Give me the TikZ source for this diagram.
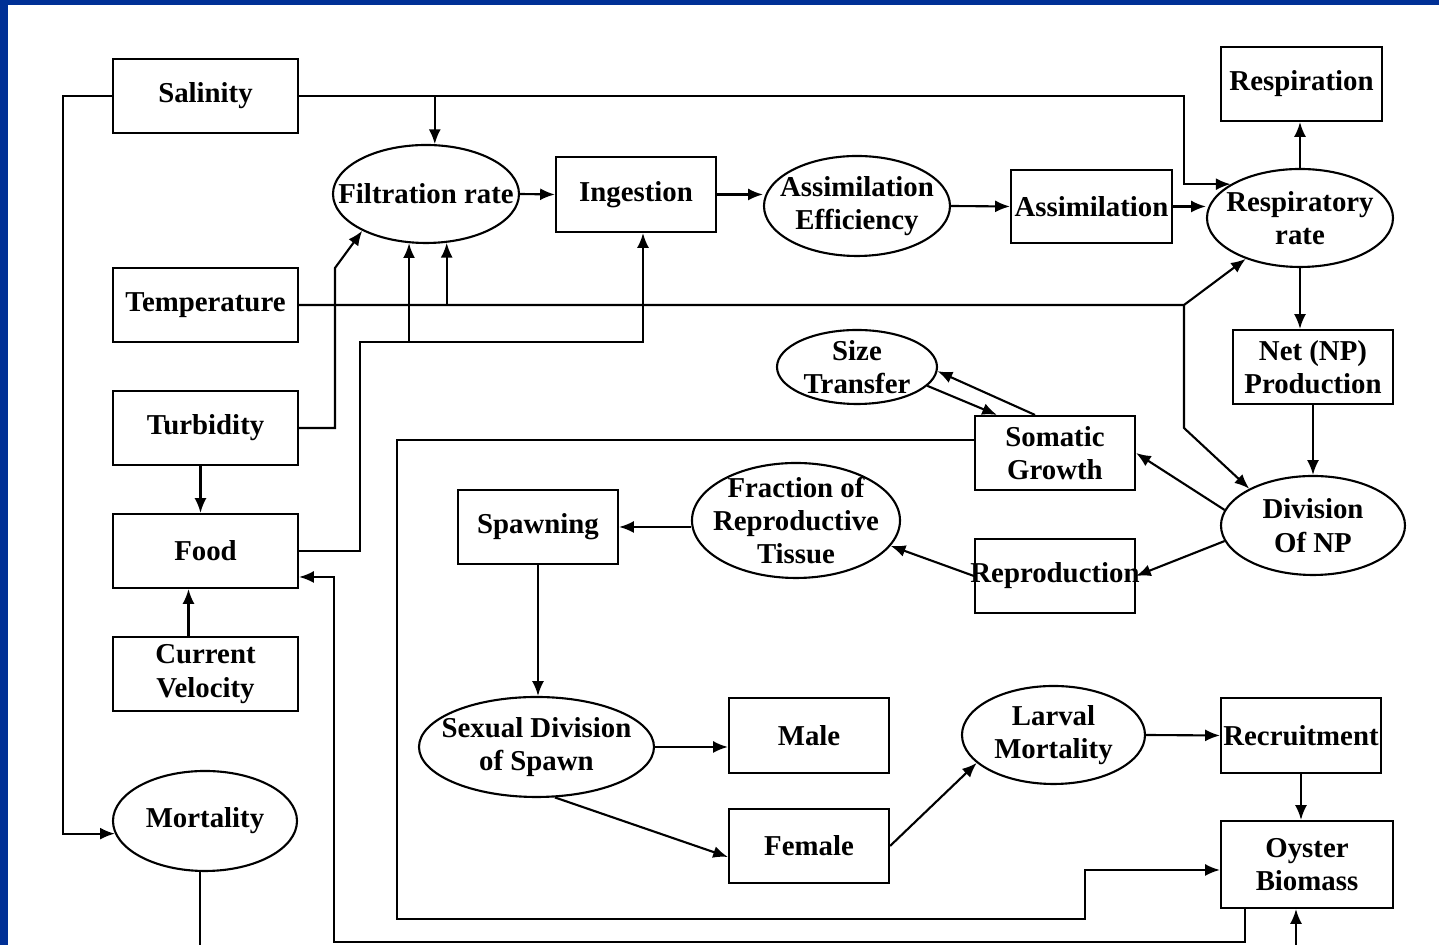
\documentclass[tikz,border=0pt]{standalone}
\usepackage{fontspec}
\setmainfont{Liberation Serif}
\usetikzlibrary{arrows.meta,shapes.geometric}
\definecolor{slideblue}{RGB}{0,48,150}
\tikzstyle{box}=[draw,rectangle,minimum width=1.6cm,minimum height=0.74cm,inner sep=0pt,align=center]
\tikzstyle{oval}=[draw,ellipse,minimum width=1.86cm,minimum height=0.98cm,inner sep=0pt]
\tikzstyle{edge}=[draw,-{Latex[length=4.2pt,width=3.4pt]}]
\tikzstyle{wire}=[draw,-]
\tikzset{txt/.style={label={[align=center]center:#1}}}

\begin{document}
\begin{tikzpicture}[line width=0.6pt,font=\bfseries\fontsize{8.2}{9.5}\selectfont]
  \useasboundingbox (0,0) rectangle (14.39,-9.45);
  \clip (0,0) rectangle (14.39,-9.45);
  \fill[slideblue] (0,0) rectangle (0.08,-9.45);
  \fill[slideblue] (0,0) rectangle (14.39,-0.05);

  % drivers
  \node[box,minimum width=1.85cm] (sal) at (2.055,-0.96) {Salinity};
  \node[box,minimum width=1.85cm] (temp) at (2.055,-3.05) {Temperature};
  \node[box,minimum width=1.85cm] (turb) at (2.055,-4.28) {Turbidity};
  \node[box,minimum width=1.85cm] (food) at (2.055,-5.51) {Food};
  \node[box,minimum width=1.85cm] (cur) at (2.055,-6.74) {Current\\Velocity};
  \node[oval,minimum width=1.84cm,minimum height=1cm,txt={Mortality}] (mort) at (2.05,-8.21) {};

  % feeding and respiration
  \node[oval,txt={Filtration rate}] (filt) at (4.26,-1.94) {};
  \node[box,minimum height=0.75cm] (ing) at (6.36,-1.945) {Ingestion};
  \node[oval,minimum height=1cm,txt={Assimilation\\Efficiency}] (ae) at (8.57,-2.06) {};
  \node[box,minimum width=1.61cm,minimum height=0.73cm] (asm) at (10.915,-2.065) {Assimilation};
  \node[box,minimum width=1.61cm] (rspn) at (13.015,-0.84) {Respiration};
  \node[oval,txt={Respiratory\\rate}] (resp) at (13,-2.18) {};
  \node[box] (net) at (13.13,-3.67) {Net (NP)\\Production};
  \node[oval,minimum width=1.84cm,minimum height=0.99cm,txt={Division\\Of NP}] (div) at (13.13,-5.255) {};

  % growth and reproduction
  \node[oval,minimum width=1.6cm,minimum height=0.74cm,txt={Size\\Transfer}] (st) at (8.57,-3.67) {};
  \node[box] (som) at (10.55,-4.53) {Somatic\\Growth};
  \node[box,txt={Reproduction}] (rep) at (10.55,-5.76) {};
  \node[oval,minimum width=2.08cm,minimum height=1.15cm,txt={Fraction of\\Reproductive\\Tissue}] (frac) at (7.96,-5.205) {};
  \node[box] (spawn) at (5.38,-5.27) {Spawning};
  \node[oval,minimum width=2.35cm,minimum height=1cm,txt={Sexual Division\\of Spawn}] (sex) at (5.365,-7.47) {};
  \node[box,minimum height=0.75cm] (male) at (8.09,-7.355) {Male};
  \node[box] (fem) at (8.09,-8.46) {Female};
  \node[oval,minimum width=1.83cm,txt={Larval\\Mortality}] (larv) at (10.535,-7.35) {};
  \node[box,minimum height=0.75cm] (rec) at (13.01,-7.355) {Recruitment};
  \node[box,minimum width=1.72cm,minimum height=0.87cm] (oys) at (13.07,-8.645) {Oyster\\Biomass};

  \coordinate (tj) at (11.84,-3.05);
  \coordinate (fj) at (3.6,-3.42);
  \coordinate (mortout) at (2,-9.8);
  \coordinate (oysin) at (12.96,-9.8);

  % environment lines
  \draw[edge] (sal.west) -- ++(-0.49,0) |- (mort.188);
  \draw[edge] (sal.east) -- (11.84,-0.96) |- (resp.154);
  \draw[edge] (sal.east -| filt.80) -- (filt.80);
  \draw[edge] (temp.east) -- (tj) -- (resp.217);
  \draw[edge] (tj) -- ++(0,-1.23) -- (div.150);
  \draw[edge] (temp.east -| filt.-67) -- (filt.-67);
  \draw[edge] (turb.east) -| (3.35,-2.68) -- (filt.210);
  \draw[edge] (food.east) -| (fj) -| ([xshift=.07cm]ing.south);
  \draw[edge] (fj -| filt.-109) -- (filt.-109);
  \draw[edge] ([xshift=-.05cm]turb.south) -- ([xshift=-.05cm]food.north);
  \draw[edge] ([xshift=-.17cm]cur.north) -- ([xshift=-.17cm]food.south);
  \draw[wire] (mortout |- mort.south) -- (mortout);

  % main chain
  \draw[edge] (filt.east) -- (ing.west);
  \draw[edge] (ing.east) -- (ing.east -| ae.west);
  \draw[edge] (ae.east) -- (asm.west);
  \draw[edge] (asm.east) -- (asm.east -| resp.west);
  \draw[edge] (resp.north) -- (resp.north |- rspn.south);
  \draw[edge] (resp.south) -- (resp.south |- net.north);
  \draw[edge] (net.south) -- (div.north);
  \draw[edge] (div.170) -- (som.east);
  \draw[edge] (div.190) -- (rep.east);
  \draw[edge] ([xshift=-.2cm]som.north) -- (st.-3);
  \draw[edge] (st.-15) -- ([xshift=-.58cm]som.north);
  \draw[edge] (rep.west) -- (frac.-15);
  \draw[edge] (spawn.east -| frac.west) -- (spawn.east);
  \draw[edge] (spawn.south) -- (spawn.south |- sex.north);
  \draw[edge] (sex.east) -- (sex.east -| male.west);
  \draw[edge] (sex.-70) -- ([yshift=-.11cm]fem.west);
  \draw[edge] (fem.east) -- (larv.200);
  \draw[edge] (larv.east) -- (rec.west);
  \draw[edge] (rec.south) -- (rec.south |- oys.north);

  % feedback loops
  \draw[edge] ([yshift=.13cm]som.west) -| (3.97,-9.19) -| ([xshift=-1.35cm,yshift=-.055cm]oys.west) -- ([yshift=-.055cm]oys.west);
  \draw[edge] ([xshift=.25cm]oys.south west) |- (3.34,-9.42) |- ([yshift=-.26cm]food.east);
  \draw[edge] (oysin) -- (oysin |- oys.south);
\end{tikzpicture}
\end{document}
